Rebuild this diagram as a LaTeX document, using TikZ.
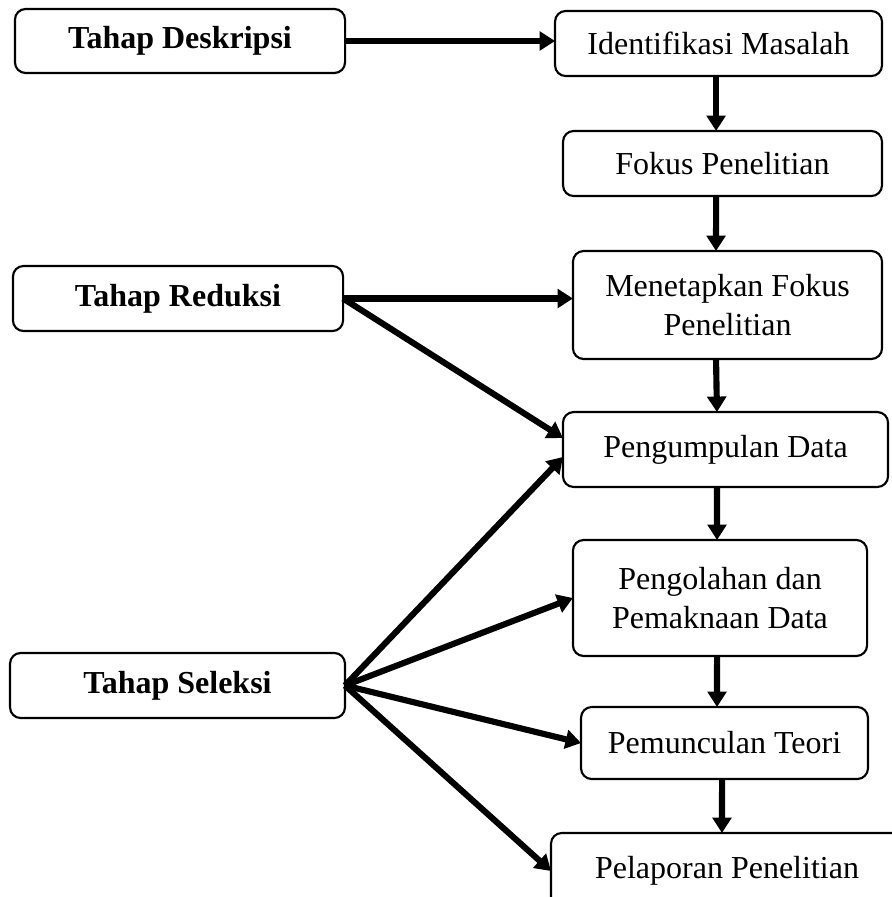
\documentclass[tikz,border=0pt]{standalone}
\usepackage{fontspec}
\setmainfont{Liberation Serif}
\usetikzlibrary{arrows.meta, positioning}

\begin{document}
\begin{tikzpicture}[x=0.375pt, y=-0.375pt,
		box/.style={draw, line width=0.8pt, rounded corners=4pt, inner sep=0pt, outer sep=0pt, align=center, font=\fontsize{12}{14.4}\selectfont},
		tahap/.style={box, font=\fontsize{12}{14.4}\selectfont\bfseries},
		arr/.style={line width=2.3pt, -{Triangle[length=5.8pt, width=7pt]}}]
		\useasboundingbox (0,0) rectangle (891,897);
		
		% tahap (kiri)
		\node [tahap, minimum width=123.8pt, minimum height=24pt] (desk) at (180,41) {Tahap Deskripsi};
		\node [tahap, minimum width=123.8pt, minimum height=24.4pt] (reduksi) at (178,298.5) {Tahap Reduksi};
		\node [tahap, minimum width=125.6pt, minimum height=24.4pt] (seleksi) at (177.5,685.5) {Tahap Seleksi};
		
		% alur (kanan)
		\node [box, minimum width=122.6pt, minimum height=24.4pt] (ident) at (718.5,43.5) {Identifikasi Masalah};
		\node [box, minimum width=119.6pt, minimum height=24.4pt] (fokus) at (722.5,163.5) {Fokus Penelitian};
		\node [box, minimum width=115.9pt, minimum height=40.5pt] (menet) at (727.5,305) {Menetapkan Fokus\\Penelitian};
		\node [box, minimum width=121.9pt, minimum height=28.1pt] (kumpul) at (725.5,449.5) {Pengumpulan Data};
		\node [box, minimum width=110.3pt, minimum height=43.5pt] (olah) at (720,598) {Pengolahan dan\\Pemaknaan Data};
		\node [box, minimum width=107.6pt, minimum height=27pt] (teori) at (724.5,743) {Pemunculan Teori};
		\node [box, minimum width=132pt, minimum height=28.5pt] (lapor) at (727,871) {Pelaporan Penelitian};
		
		\foreach \a/\sa/\b/\sb in {ident/-0.9/fokus/-2.4, fokus/-2.4/menet/-4.3, menet/-4.3/kumpul/-3.2,
			kumpul/-3.2/olah/-1.1, olah/-1.1/teori/-2.8, teori/-0.9/lapor/-1.9}{
			\draw [arr] ([xshift=\sa pt]\a.south) -- ([xshift=\sb pt]\b.north);
		}
		
		\draw [arr] (desk.east) -- (desk.east -| ident.west);
		\draw [arr] (reduksi.east) -- (reduksi.east -| menet.west);
		\draw [arr] (reduksi.east) -- ([yshift=4.3pt]kumpul.west);
		\draw [arr] (seleksi.east) -- ([yshift=-2.8pt]kumpul.west);
		\foreach \b in {olah, teori, lapor}{
			\draw [arr] (seleksi.east) -- (\b.west);
		}
	\end{tikzpicture}
\end{document}
